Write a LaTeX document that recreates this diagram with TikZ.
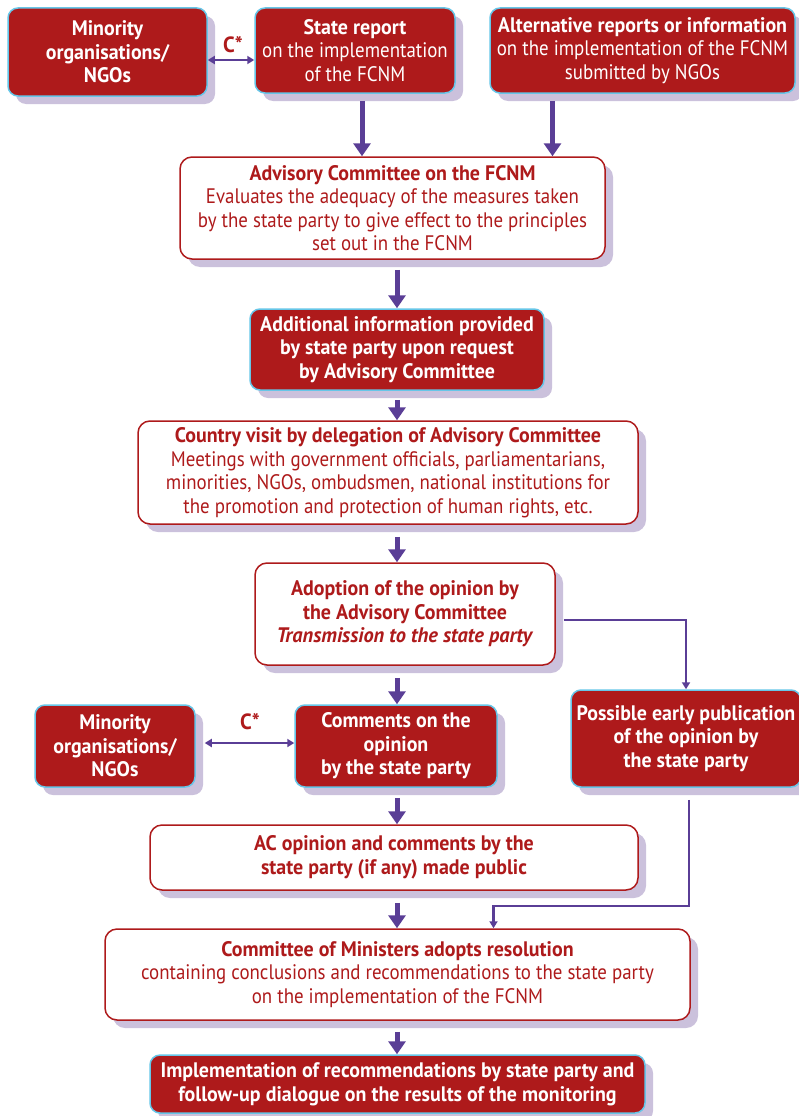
\documentclass[tikz,border=0pt]{standalone}
\usepackage{fontspec}
\setmainfont{PT Sans}[FakeStretch=0.9,BoldFeatures={FakeStretch=0.95},BoldItalicFeatures={FakeStretch=0.97}]
\usepackage{tikz}
\usetikzlibrary{arrows.meta}
\usetikzlibrary{shadows}
\usetikzlibrary{calc}

\definecolor{fcred}{HTML}{AE1A1B}
\definecolor{skyline}{HTML}{66C6E8}
\definecolor{lilac}{HTML}{CBC1DC}
\definecolor{flowpurple}{HTML}{5A3E96}

\begin{document}
\begin{tikzpicture}[x=1pt,y=-1pt,
		every node/.style={align=center,inner sep=0pt,font=\fontsize{21}{23.5}\selectfont},
		lilacshadow/.style={drop shadow={shadow xshift=8pt,shadow yshift=-8pt,fill=lilac,opacity=1}},
		redbox/.style={draw=skyline,line width=1.5pt,fill=fcred,text=white,rounded corners=10pt,lilacshadow},
		whitebox/.style={draw=fcred,line width=1.5pt,fill=white,text=fcred,rounded corners=12pt,lilacshadow},
		boldtext/.style={font=\fontsize{21}{23.5}\selectfont\bfseries},
		bigarrow/.style={flowpurple,line width=5pt,-{Triangle[length=13pt,width=17pt]}},
		thinarrow/.style={flowpurple,line width=2.2pt,-{Triangle[length=7pt,width=8pt]}},
		bothways/.style={flowpurple,line width=2.2pt,{Triangle[length=7pt,width=8pt]}-{Triangle[length=7pt,width=8pt]}},
		cstar/.style={text=fcred,font=\fontsize{22}{24}\selectfont\bfseries}]
	\useasboundingbox (0,0) rectangle (799,1116);
	
	% top row: the reports
	\node[redbox,boldtext,minimum width=199pt,minimum height=88pt] (minorityA) at (107.5,52) {Minority\\organisations/\\NGOs};
	\node[redbox,minimum width=200pt,minimum height=85pt] (statereport) at (355,50.5) {\textbf{State report}\\on the implementation\\of the FCNM};
	\node[redbox,minimum width=305pt,minimum height=85pt] (altreport) at (642.5,50.5) {\textbf{Alternative reports or information}\\on the implementation of the FCNM\\submitted by NGOs};
	\node[cstar] (cA) at (233,45) {C*};
	
	% Advisory Committee stages
	\node[whitebox,minimum width=425pt,minimum height=102pt] (advisory) at (392.5,208) {\textbf{Advisory Committee on the FCNM}\\Evaluates the adequacy of the measures taken\\by the state party to give effect to the principles\\set out in the FCNM};
	\node[redbox,boldtext,minimum width=294pt,minimum height=81pt] (addinfo) at (397,349.5) {Additional information provided\\by state party upon request\\by Advisory Committee};
	\node[whitebox,minimum width=500pt,minimum height=103pt] (visit) at (388,472.5) {\textbf{Country visit by delegation of Advisory Committee}\\Meetings with government officials, parliamentarians,\\minorities, NGOs, ombudsmen, national institutions for\\the promotion and protection of human rights, etc.};
	\node[whitebox,boldtext,minimum width=300pt,minimum height=102pt] (adoption) at (405,614) {Adoption of the opinion by\\the Advisory Committee\\\textit{Transmission to the state party}};
	
	% comments and publication
	\node[redbox,boldtext,minimum width=160pt,minimum height=82pt] (minorityB) at (115,746) {Minority\\organisations/\\NGOs};
	\node[redbox,boldtext,minimum width=202pt,minimum height=82pt] (comments) at (396,746) {Comments on the\\opinion\\by the state party};
	\node[redbox,boldtext,minimum width=230pt,minimum height=97pt] (earlypub) at (686,738.5) {Possible early publication\\of the opinion by\\the state party};
	\node[cstar] (cB) at (250,722) {C*};
	\node[whitebox,boldtext,minimum width=488pt,minimum height=65pt] (published) at (394,857.5) {AC opinion and comments by the\\state party (if any) made public};
	
	% Committee of Ministers and follow-up
	\node[whitebox,minimum width=585pt,minimum height=91pt] (ministers) at (397.5,974.5) {\textbf{Committee of Ministers adopts resolution}\\containing conclusions and recommendations to the state party\\on the implementation of the FCNM};
	\node[redbox,boldtext,minimum width=495pt,minimum height=58pt] (followup) at (397.5,1084) {Implementation of recommendations by state party and\\follow-up dialogue on the results of the monitoring};
	
	% connectors
	\draw[bothways] ([yshift=-8pt]minorityA.east) -- ([yshift=-8pt]minorityA.east -| statereport.west);
	\draw[bigarrow] ([xshift=7pt,yshift=-7pt]statereport.south) -- ([xshift=7pt]statereport.south |- advisory.north);
	\draw[bigarrow] ([xshift=-90pt,yshift=-7pt]altreport.south) -- ([xshift=-90pt]altreport.south |- advisory.north);
	\draw[bigarrow] ([yshift=-10pt]advisory.south -| addinfo.north) -- (addinfo.north);
	\draw[bigarrow] ([yshift=-9pt]addinfo.south) -- (addinfo.south |- visit.north);
	\draw[bigarrow] ([yshift=-12pt]visit.south -| addinfo.south) -- (adoption.north -| addinfo.south);
	\draw[bigarrow] ([yshift=-12pt]adoption.south -| addinfo.south) -- (comments.north -| addinfo.south);
	\draw[thinarrow] ([xshift=8pt,yshift=-6pt]adoption.east) -| (earlypub.north);
	\draw[bothways] ([xshift=9pt,yshift=3pt]minorityB.east) -- ([yshift=3pt]comments.west);
	\draw[bigarrow] ([yshift=-10pt]comments.south -| addinfo.south) -- (published.north -| addinfo.south);
	\draw[bigarrow] ([yshift=-12pt]published.south -| addinfo.south) -- (ministers.north -| addinfo.south);
	\draw[thinarrow] ([xshift=3pt,yshift=-12pt]earlypub.south) |- ([xshift=96pt,yshift=22pt]ministers.north) -- ([xshift=96pt]ministers.north);
	\draw[bigarrow] ([yshift=-11pt]ministers.south -| addinfo.south) -- (followup.north -| addinfo.south);
\end{tikzpicture}
\end{document}
